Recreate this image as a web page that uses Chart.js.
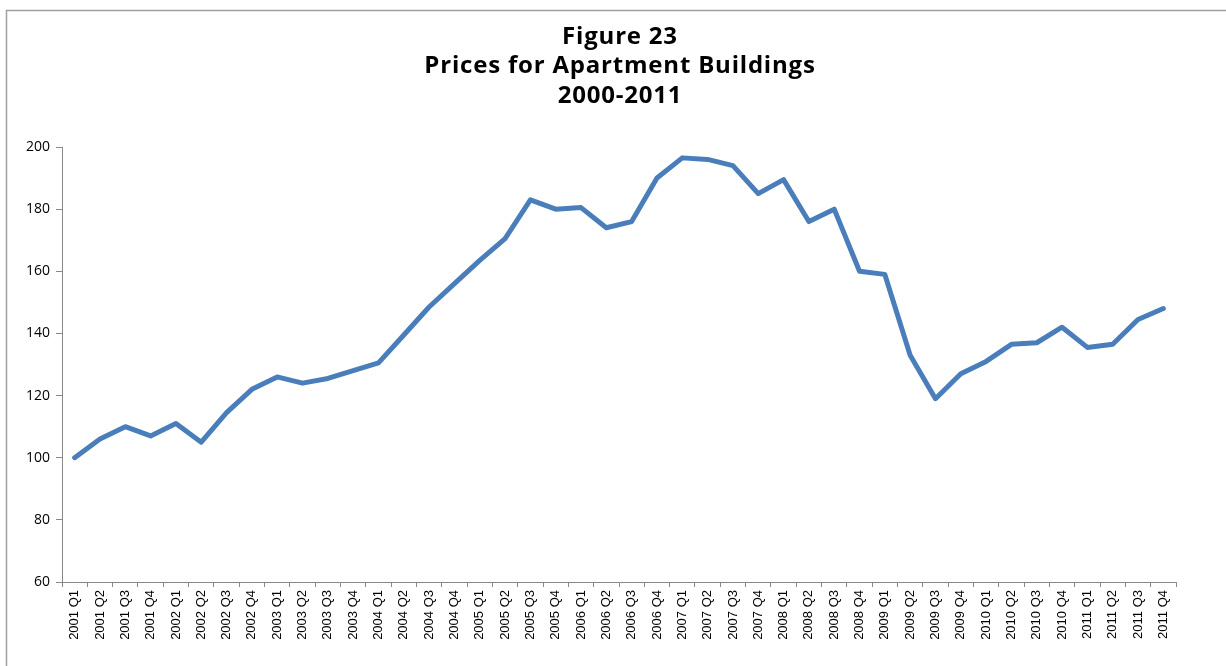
<!DOCTYPE html>
<html><head><meta charset="utf-8">
<style>html,body{margin:0;padding:0;background:#fff}#wrap{width:1226px;height:666px;position:relative}</style>
<script src="https://cdn.jsdelivr.net/npm/chart.js@4.4.0/dist/chart.umd.min.js"></script>
</head><body>
<div id="wrap"><canvas id="c" width="1226" height="666"></canvas></div>
<script>
const categories = ["2001 Q1","2001 Q2","2001 Q3","2001 Q4","2002 Q1","2002 Q2","2002 Q3","2002 Q4","2003 Q1","2003 Q2","2003 Q3","2003 Q4","2004 Q1","2004 Q2","2004 Q3","2004 Q4","2005 Q1","2005 Q2","2005 Q3","2005 Q4","2006 Q1","2006 Q2","2006 Q3","2006 Q4","2007 Q1","2007 Q2","2007 Q3","2007 Q4","2008 Q1","2008 Q2","2008 Q3","2008 Q4","2009 Q1","2009 Q2","2009 Q3","2009 Q4","2010 Q1","2010 Q2","2010 Q3","2010 Q4","2011 Q1","2011 Q2","2011 Q3","2011 Q4"];
const prices = [100,106,110,107,111,105,114.5,122,126,124,125.5,128,130.5,139.5,148.5,156,163.5,170.5,183,180,180.5,174,176,190,196.5,196,194,185,189.5,176,180,160,159,133,119,127,131,136.5,137,142,135.5,136.5,144.5,148];
const titleLines = ["Figure 23","Prices for Apartment Buildings","2000-2011"];
const yMin = 60, yMax = 200, yStep = 20;

const frame = {
  id:'frame',
  beforeDraw(chart){
    const c = chart.ctx;
    c.save();
    c.strokeStyle = '#a0a0a0';
    c.lineWidth = 1.5;
    c.beginPath();
    c.moveTo(6.5, 666);
    c.lineTo(6.5, 10.5);
    c.lineTo(1226, 10.5);
    c.stroke();
    c.restore();
  }
};

const titlePlugin = {
  id:'figTitle',
  afterDraw(chart){
    const c = chart.ctx;
    c.save();
    c.fillStyle = '#000';
    c.font = 'bold 24px "Open Sans"';
    c.letterSpacing = '0.8px';
    c.textAlign = 'center';
    c.textBaseline = 'middle';
    titleLines.forEach((t,i)=>c.fillText(t, 620, 37 + i*29.5));
    c.restore();
  }
};

new Chart(document.getElementById('c'), {
  type:'line',
  data:{labels:categories, datasets:[{data:prices, borderColor:'#4a7ebb', borderWidth:5, pointRadius:0, tension:0, fill:false, borderCapStyle:'round', borderJoinStyle:'round'}]},
  options:{
    responsive:false, animation:false,
    layout:{padding:{top:147,right:50,left:0,bottom:0}},
    plugins:{
      legend:{display:false}, tooltip:{enabled:false}, title:{display:false}
    },
    scales:{
      x:{
        offset:true,
        grid:{display:true, offset:true, drawOnChartArea:false, drawTicks:true, tickLength:5, color:'#888'},
        border:{display:true, color:'#888', width:1},
        ticks:{maxRotation:90, minRotation:90, autoSkip:false, color:'#000', font:{family:'Liberation Sans Narrow, Liberation Sans', size:13}, padding:3},
        afterFit(s){ s.height = 84; }
      },
      y:{
        min:yMin, max:yMax,
        grid:{display:true, drawOnChartArea:false, drawTicks:true, tickLength:6, color:'#888'},
        border:{display:true, color:'#888', width:1},
        ticks:{stepSize:yStep, color:'#000', font:{family:'Open Sans', size:14}, padding:6},
        afterFit(s){ s.width = 62; }
      }
    }
  },
  plugins:[frame, titlePlugin]
});
</script>
</body></html>
